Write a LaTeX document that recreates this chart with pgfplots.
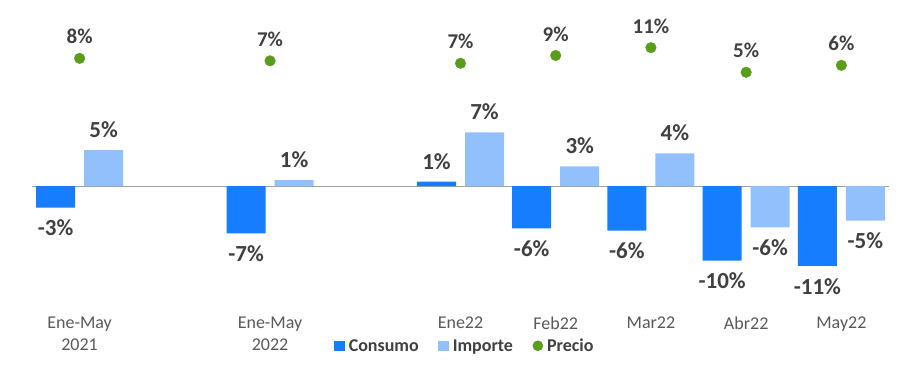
\documentclass[border=0pt]{standalone}
\usepackage{pgfplots}
\pgfplotsset{compat=1.18}
\usepackage{pgfplotstable}
\usepackage{fontspec}
\setmainfont{Carlito}
\definecolor{cons}{RGB}{22,125,255}
\definecolor{imp}{RGB}{146,192,253}
\definecolor{prec}{RGB}{90,157,26}
\definecolor{labc}{RGB}{64,64,64}
\definecolor{tickc}{RGB}{89,89,89}
\definecolor{zeroc}{RGB}{160,160,160}

\pgfplotstableread{
x cons consl imp impl prec precl
0 -3.01 -3 5.00 5 8.4 8
2 -6.57 -7 0.83 1 7.8 7
4 0.60 1 7.46 7 7.2 7
5 -5.88 -6 2.74 3 9.1 9
6 -6.21 -6 4.54 4 11.0 11
7 -10.38 -10 -5.74 -6 5.0 5
8 -11.11 -11 -4.82 -5 6.7 6
}\datatable

\pgfplotsset{
  barlab/.style={
    nodes near coords={\pgfplotspointmeta\%},
    point meta=explicit symbolic,
    visualization depends on={rawy \as \rawy},
    every node near coord/.append style={
      font=\fontsize{23}{25}\selectfont\bfseries, text=labc,
      inner xsep=0pt, inner ysep=12pt, xshift=#1,
      /utils/exec={\pgfmathparse{\rawy<0}\ifdim\pgfmathresult pt>0.5pt \gdef\myanc{north}\else\gdef\myanc{south}\fi},
      anchor=\myanc}
  }
}

\begin{document}
\begin{tikzpicture}
\useasboundingbox (0,0) rectangle (907pt,367pt);
\begin{axis}[
  at={(32pt,80.2pt)}, anchor=south west,
  scale only axis, width=857pt, height=172.8pt,
  xmin=-0.5, xmax=8.5, ymin=-14, ymax=10,
  axis line style={draw=none},
  major tick style={draw=none},
  xtick={0,2,4,5,6,7,8},
  xticklabels={{Ene-May\\2021},{Ene-May\\2022},Ene22,Feb22,Mar22,Abr22,May22},
  xticklabel style={align=center, anchor=north, inner sep=0pt, yshift=-30pt,
    font=\fontsize{18}{21.7}\selectfont, text=tickc},
  ytick=\empty,
  extra y ticks={0}, extra y tick labels={},
  extra y tick style={grid=major, major grid style={zeroc, line width=1pt}},
  clip=false,
  legend style={draw=none, fill=none, legend columns=3,
    at={(0.504,-0.343)}, anchor=center,
    font=\fontsize{18}{20}\selectfont\bfseries, text=labc,
    nodes={inner sep=0pt},
    /tikz/every odd column/.append style={column sep=4pt},
    /tikz/every even column/.append style={column sep=19.5pt}},
  legend image code/.code={\fill[#1, draw=none] (0pt,-5pt) rectangle (10.5pt,5.5pt);},
]
\addplot[ybar, bar width=39pt, bar shift=-24pt, fill=cons, draw=none, barlab=-24pt, forget plot]
  table[x=x, y=cons, meta=consl] {\datatable};
\addplot[ybar, bar width=39pt, bar shift=24pt, fill=imp, draw=none, barlab=24pt, forget plot]
  table[x=x, y=imp, meta=impl] {\datatable};
\addlegendimage{fill=cons}
\addlegendentry{Consumo}
\addlegendimage{fill=imp}
\addlegendentry{Importe}
\addlegendimage{legend image code/.code={\fill[prec, draw=none] (5.3pt,0.3pt) circle (5.3pt);}}
\addlegendentry{Precio}
\end{axis}
\begin{axis}[
  at={(32pt,274.2pt)}, anchor=south west,
  scale only axis, width=857pt, height=49.2pt,
  xmin=-0.5, xmax=8.5, ymin=0, ymax=12,
  hide axis, clip=false,
]
\addplot[only marks, mark=*, mark size=5.3pt, color=prec,
  nodes near coords={\pgfplotspointmeta\%},
  point meta=explicit symbolic,
  every node near coord/.append style={font=\fontsize{21}{23}\selectfont\bfseries,
    text=labc, anchor=south, inner sep=0pt, yshift=14pt}]
  table[x=x, y=prec, meta=precl] {\datatable};
\end{axis}
\end{tikzpicture}
\end{document}
